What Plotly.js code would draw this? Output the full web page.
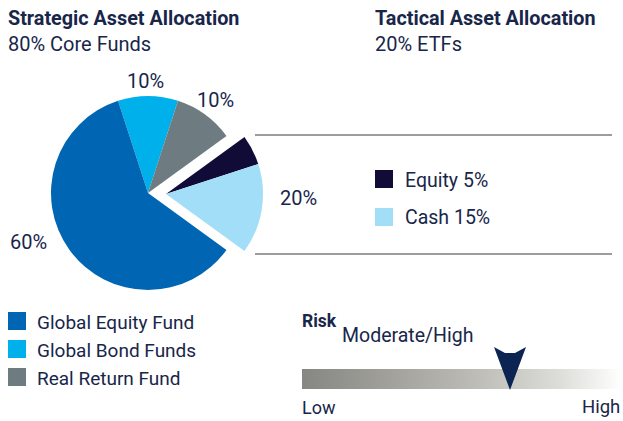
<!DOCTYPE html>
<html>
<head>
<meta charset="utf-8">
<script src="https://cdn.plot.ly/plotly-3.0.1.min.js"></script>
<style>html,body{margin:0;padding:0;background:#fff;}#chart{width:623px;height:421px;}</style>
</head>
<body>
<div id="chart"></div>
<script>
// ---- data ----
var sliceLabels = ['Global Bond Funds', 'Real Return Fund', 'Equity', 'Cash', 'Global Equity Fund'];
var sliceValues = [10, 10, 5, 15, 60];
var sliceColors = ['#00b0ea', '#6e7c81', '#110c37', '#a2def7', '#0066b3'];
var tacticalSlices = ['Equity', 'Cash'];
var coreLegend = ['Global Equity Fund', 'Global Bond Funds', 'Real Return Fund'];
var tacticalLegend = ['Equity 5%', 'Cash 15%'];
var riskLevel = 0.65;
var riskRange = [0, 1];
var riskLabel = 'Moderate/High';

var TXT = '#18264a';
var FONT = 'Roboto, Arial, sans-serif';
var W = 623, H = 421;
function px(x){ return x / W; }
function py(y){ return 1 - y / H; }
function colorOf(l){ return sliceColors[sliceLabels.indexOf(l)]; }
function valOf(l){ return sliceValues[sliceLabels.indexOf(l)]; }

var R = 97;
var cx = 148, cy = 193;
var dx = 18, dy = 1;

var coreColors = sliceLabels.map(function(l, i){ return tacticalSlices.indexOf(l) >= 0 ? 'rgba(0,0,0,0)' : sliceColors[i]; });
var tactColors = sliceLabels.map(function(l, i){ return tacticalSlices.indexOf(l) >= 0 ? sliceColors[i] : 'rgba(0,0,0,0)'; });

var pieBase = {
  type: 'pie', labels: sliceLabels, values: sliceValues, sort: false,
  direction: 'clockwise', rotation: -18, textinfo: 'none', hoverinfo: 'skip',
  showlegend: false
};
var core = Object.assign({}, pieBase, {
  marker: {colors: coreColors, line: {width: 0}},
  domain: {x: [px(cx - R), px(cx + R)], y: [py(cy + R), py(cy - R)]}
});
var tact = Object.assign({}, pieBase, {
  marker: {colors: tactColors, line: {width: 0}},
  domain: {x: [px(cx + dx - R), px(cx + dx + R)], y: [py(cy + dy + R), py(cy + dy - R)]}
});

// risk bar
var riskBar = {
  type: 'scatter', xaxis: 'x', yaxis: 'y',
  x: [riskRange[0], riskRange[1], riskRange[1], riskRange[0], riskRange[0]],
  y: [0, 0, 1, 1, 0],
  mode: 'none', fill: 'toself',
  fillgradient: {type: 'horizontal', colorscale: [[0, '#868682'], [0.5, '#b8b7b1'], [0.8, '#dcdcd8'], [1, '#ffffff']]},
  hoverinfo: 'skip', showlegend: false
};

var barL = 302, barR = 622, barTop = 369, barBot = 389;
var axTop = 340, axBot = 395;
var unit = (barBot - barTop);

var annotations = [];
var shapes = [];
function txt(x, y, text, size, bold, xanchor){
  var xa = xanchor || 'left';
  var off = xa === 'left' ? -2 : (xa === 'right' ? 2 : 0);
  annotations.push({xref: 'paper', yref: 'paper', x: px(x + off), y: py(y), text: bold ? '<b>' + text + '</b>' : text,
    showarrow: false, xanchor: xa, yanchor: 'middle',
    font: {family: FONT, size: size, color: TXT}});
}
txt(8, 18, 'Strategic Asset Allocation', 19.8, true);
txt(8, 44, '80% Core Funds', 20, false);
txt(375, 18, 'Tactical Asset Allocation', 19.8, true);
txt(375, 44, '20% ETFs', 20, false);

// pie labels
txt(145, 81, valOf('Global Bond Funds') + '%', 20, false, 'center');
txt(216, 100, valOf('Real Return Fund') + '%', 20, false, 'center');
txt(28, 242, valOf('Global Equity Fund') + '%', 20, false, 'center');
txt(298, 198, (valOf('Equity') + valOf('Cash')) + '%', 20, false, 'center');

// left legend
coreLegend.forEach(function(l, i){
  var y0 = 312 + i * 28;
  shapes.push({type: 'rect', xref: 'paper', yref: 'paper', x0: px(8), x1: px(26), y0: py(y0), y1: py(y0 + 18),
    fillcolor: colorOf(l), line: {width: 0}});
  txt(37, y0 + 10, l, 19, false);
});
// right legend
tacticalLegend.forEach(function(l, i){
  var y0 = 170 + i * 38;
  shapes.push({type: 'rect', xref: 'paper', yref: 'paper', x0: px(375), x1: px(393), y0: py(y0), y1: py(y0 + 18),
    fillcolor: colorOf(tacticalSlices[i]), line: {width: 0}});
  txt(405, y0 + 10, l, 19.5, false);
});
// bracket lines
[135, 254].forEach(function(y){
  shapes.push({type: 'line', xref: 'paper', yref: 'paper', x0: px(255), x1: px(612), y0: py(y), y1: py(y),
    line: {color: '#3a3a3a', width: 1}});
});

// risk texts
txt(302, 321, 'Risk', 17.5, true);
txt(342, 335, riskLabel, 19.5, false);
txt(302, 407, 'Low', 18, false);
txt(620, 407, 'High', 18.5, false, 'right');

// risk marker
shapes.push({type: 'path', xref: 'x', yref: 'y', xsizemode: 'pixel', ysizemode: 'pixel',
  xanchor: riskLevel, yanchor: 0,
  path: 'M 0 -1 L -16 42 L -5 36 L 5 36 L 16 42 Z',
  fillcolor: '#0c2451', line: {width: 0}});

var layout = {
  width: W, height: H, margin: {l: 0, r: 0, t: 0, b: 0},
  paper_bgcolor: '#fff', plot_bgcolor: 'rgba(0,0,0,0)',
  showlegend: false,
  xaxis: {domain: [px(barL), px(barR)], range: riskRange, visible: false, fixedrange: true},
  yaxis: {domain: [py(axBot), py(axTop)], range: [-(axBot - barBot) / unit, (barBot - axTop) / unit], visible: false, fixedrange: true},
  annotations: annotations, shapes: shapes
};

Plotly.newPlot('chart', [core, tact, riskBar], layout, {displayModeBar: false, staticPlot: true});
</script>
</body>
</html>
